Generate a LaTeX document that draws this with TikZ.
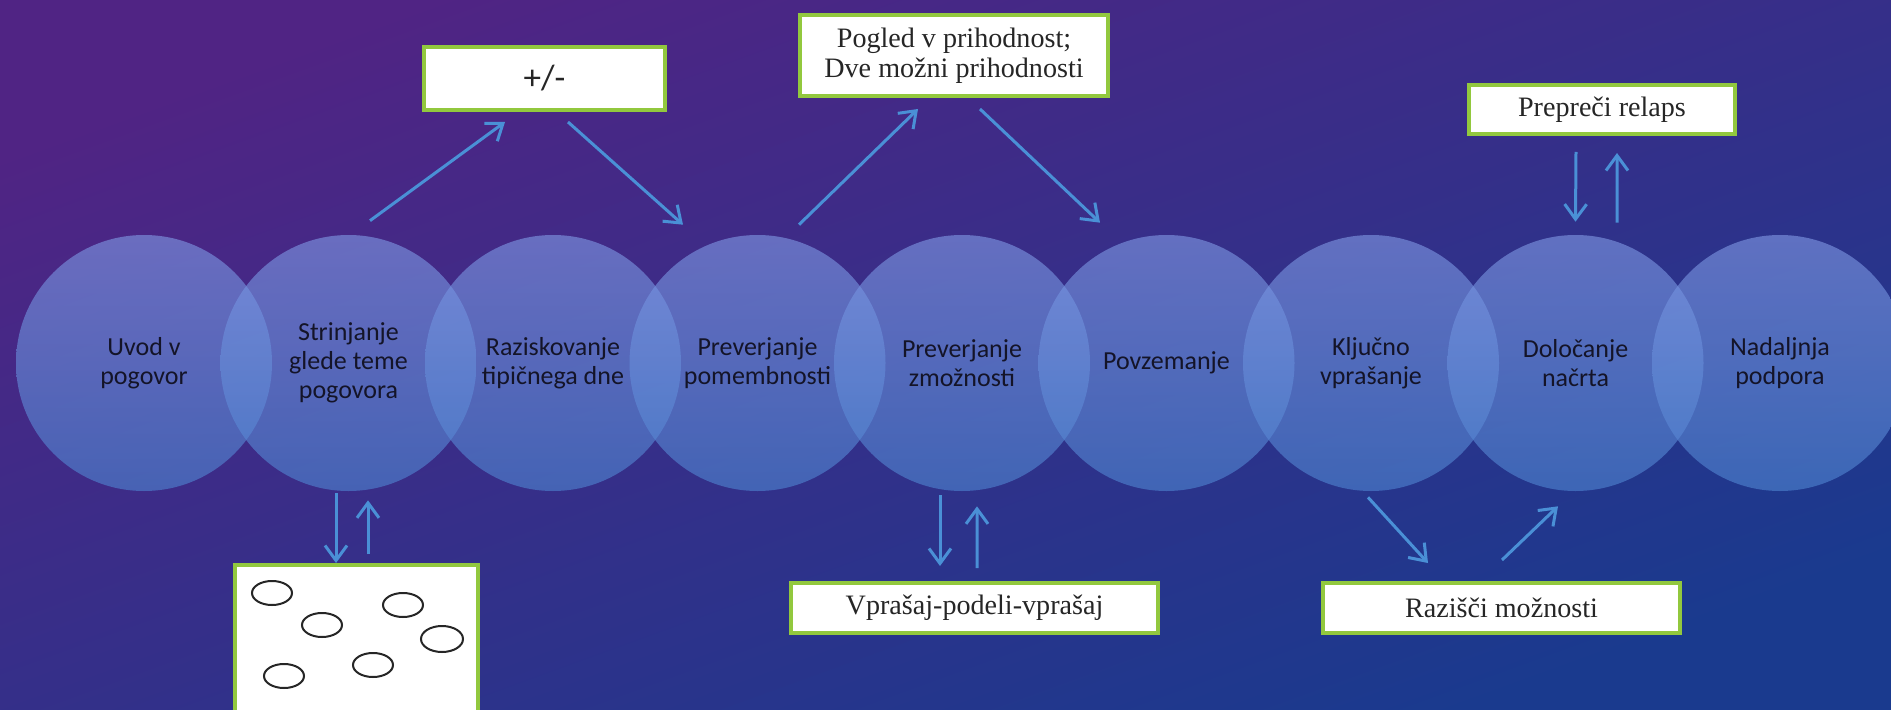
\documentclass[tikz,border=0pt]{standalone}
\usepackage{fontspec}
\setmainfont{Liberation Serif}
\newfontfamily\stagefont{Carlito}
\usetikzlibrary{arrows.meta}

\definecolor{bgtop}{RGB}{80,36,132}
\definecolor{bgbot}{RGB}{26,58,142}
\definecolor{stagetop}{RGB}{128,152,228}
\definecolor{stagebot}{RGB}{78,132,208}
\definecolor{stagetext}{RGB}{20,20,40}
\definecolor{flowblue}{RGB}{74,144,214}
\definecolor{notegreen}{RGB}{146,200,62}

\begin{document}
\begin{tikzpicture}[x=0.02cm, y=-0.02cm,
  % pixel grid, y runs down
  disc/.style={top color=stagetop, bottom color=stagebot, fill opacity=0.62},
  stage/.style={circle, minimum size=5.12cm, inner sep=0pt, text=stagetext,
    align=center, font=\stagefont\fontsize{14.8}{16.5}\selectfont},
  note/.style={draw=notegreen, line width=0.08cm, fill=white, inner sep=0pt,
    align=center, text=black!85, font=\fontsize{16}{17}\selectfont},
  flow/.style={draw=flowblue, line width=0.06cm,
    -{Straight Barb[length=0.3cm, width=0.44cm]}},
  bubble/.style={draw=black!85, line width=0.04cm}
  ]
  \path[use as bounding box] (0,0) rectangle (1891,710);
  \clip (0,0) rectangle (1891,710);
  \shade[top color=bgtop, bottom color=bgbot, shading angle=20] (0,0) rectangle (1891,710);

  \foreach \cx in {144,348.5,553,757.5,962,1166.5,1371,1575.5,1780}
    \shade[disc] (\cx,363) circle (128);

  \node[stage] (c1) at (144,363) {Uvod v\\pogovor};
  \node[stage] (c2) at (348.5,363) {Strinjanje\\glede teme\\pogovora};
  \node[stage] (c3) at (553,363) {Raziskovanje\\tipičnega dne};
  \node[stage] (c4) at (757.5,363) {Preverjanje\\pomembnosti};
  \node[stage] (c5) at (962,363) {Preverjanje\\zmožnosti};
  \node[stage] (c6) at (1166.5,363) {Povzemanje};
  \node[stage] (c7) at (1371,363) {Ključno\\vprašanje};
  \node[stage] (c8) at (1575.5,363) {Določanje\\načrta};
  \node[stage] (c9) at (1780,363) {Nadaljnja\\podpora};

  \node[note, minimum width=4.82cm, minimum height=1.26cm,
    font=\stagefont\fontsize{20}{22}\selectfont] (pm) at (544.5,78.5) {+/-};
  \node[note, minimum width=6.16cm, minimum height=1.62cm] (pogled) at (954,55.5)
    {Pogled v prihodnost;\\Dve možni prihodnosti};
  \node[note, minimum width=5.32cm, minimum height=0.98cm] (relaps) at (1602,109.5)
    {Prepreči relaps};
  \node[note, minimum width=4.86cm, minimum height=3.8cm] (ovals) at (356.5,660) {};
  \node[note, minimum width=7.34cm, minimum height=1cm] (vprasaj) at (974.5,608)
    {Vprašaj-podeli-vprašaj};
  \node[note, minimum width=7.14cm, minimum height=1cm] (razisci) at (1501.5,608)
    {Razišči možnosti};

  \draw[bubble] (272,593) ellipse (20 and 12);
  \draw[bubble] (322,625) ellipse (20 and 12);
  \draw[bubble] (403,605) ellipse (20 and 12);
  \draw[bubble] (442,639) ellipse (21 and 13);
  \draw[bubble] (373,665) ellipse (20 and 12);
  \draw[bubble] (284,676) ellipse (20 and 12);

  \draw[flow] ([shift={(21.5,-14)}]c2.north) -- ([shift={(-39.5,10)}]pm.south);
  \draw[flow] ([shift={(23.5,10)}]pm.south) -- ([shift={(-74.5,-10)}]c4.north);
  \draw[flow] ([shift={(41.5,-10)}]c4.north) -- ([shift={(-36,11)}]pogled.south);
  \draw[flow] ([shift={(26,11)}]pogled.south) -- ([shift={(-66.5,-12)}]c6.north);

  \draw[flow] ([shift={(-26,16)}]relaps.south) -- ([shift={(0,-13)}]c8.north);
  \draw[flow] ([shift={(41.5,-12)}]c8.north) -- ([shift={(15,17)}]relaps.south);

  \draw[flow] ([shift={(-12.5,2)}]c2.south) -- ([shift={(-20.5,0)}]ovals.north);
  \draw[flow] ([shift={(11.5,-9)}]ovals.north) -- ([shift={(19.5,9)}]c2.south);

  \draw[flow] ([shift={(-22,4)}]c5.south) -- ([shift={(-34.5,-15)}]vprasaj.north);
  \draw[flow] ([shift={(2.5,-13)}]vprasaj.north) -- ([shift={(15,15)}]c5.south);

  \draw[flow] ([shift={(-3,6)}]c7.south) -- ([shift={(-73.5,-18)}]razisci.north);
  \draw[flow] ([shift={(0.5,-21)}]razisci.north) -- ([shift={(-17.5,15)}]c8.south);
\end{tikzpicture}
\end{document}
